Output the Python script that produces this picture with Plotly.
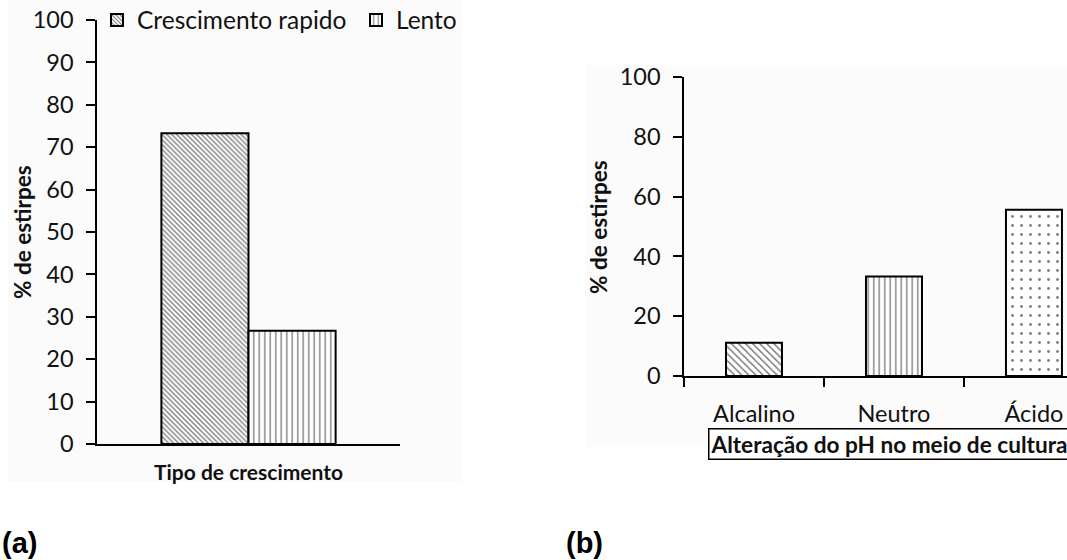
import plotly.graph_objects as go

W, H = 1067, 560

# ---- data: panel (a)
cat_a = ["Tipo de crescimento"]
rapido = [73.3]
lento = [26.7]
names_a = ["Crescimento rapido", "Lento"]
yticks_a = [0, 10, 20, 30, 40, 50, 60, 70, 80, 90, 100]

# ---- data: panel (b)
cat_b = ["Alcalino", "Neutro", "Ácido"]
ph_vals = [11.1, 33.3, 55.6]
yticks_b = [0, 20, 40, 60, 80, 100]


def px(x):
    return x / W


def py(y):
    return 1 - y / H


FONT = "Lato"
BOLD = "Lato"

fig = go.Figure()

fig.add_trace(go.Bar(
    x=cat_a, y=rapido, name=names_a[0], xaxis="x", yaxis="y",
    marker=dict(color="white", line=dict(color="black", width=2),
                pattern=dict(shape="\\", fgcolor="black", bgcolor="white", size=3.5, solidity=0.4)),
))
fig.add_trace(go.Bar(
    x=cat_a, y=lento, name=names_a[1], xaxis="x", yaxis="y",
    marker=dict(color="white", line=dict(color="black", width=2),
                pattern=dict(shape="|", fgcolor="black", bgcolor="white", size=5.5, solidity=0.25)),
))
fig.add_trace(go.Bar(
    x=cat_b, y=ph_vals, xaxis="x2", yaxis="y2", showlegend=False, width=0.4,
    marker=dict(color="white", line=dict(color="black", width=2),
                pattern=dict(shape=["\\", "|", "."], fgcolor="black", bgcolor="white",
                             size=[5, 5.5, 9], solidity=[0.3, 0.25, 0.08])),
))

axis_common = dict(showline=True, linecolor="black", linewidth=1.5, showgrid=False,
                   zeroline=False, tickcolor="black", tickwidth=1.5, ticklen=9,
                   ticklabeloverflow="allow")

fig.update_layout(
    width=W, height=H,
    margin=dict(l=0, r=0, t=0, b=0, autoexpand=False),
    paper_bgcolor="white", plot_bgcolor="rgba(0,0,0,0)",
    barmode="group", bargap=0.425, bargroupgap=0,
    font=dict(family=FONT, size=23.5, color="#111111"),
    xaxis=dict(domain=[px(97), px(400)], anchor="y", type="category", range=[-0.5, 0.5],
               showline=True, linecolor="black", linewidth=1.5, ticks="", showgrid=False,
               tickfont=dict(family=BOLD, size=21, weight="bold"), ticklabelstandoff=9,
               automargin=False),
    yaxis=dict(domain=[py(444), py(20)], anchor="x", range=[0, 100], tickvals=yticks_a,
               ticks="outside", ticklabelstandoff=8, automargin=False, **axis_common),
    xaxis2=dict(domain=[px(684), 1.0], anchor="y2", type="category", range=[-0.5, 2.236],
                ticks="outside", tickson="boundaries", ticklabelstandoff=16, automargin=False,
                **axis_common),
    yaxis2=dict(domain=[py(376), py(77)], anchor="x2", range=[0, 100], tickvals=yticks_b,
                ticks="outside", ticklabelstandoff=8, automargin=False, **axis_common),
    legend=dict(orientation="h", x=px(97), xanchor="left", y=py(20), yanchor="middle",
                font=dict(family=FONT, size=24.5), bgcolor="rgba(0,0,0,0)",
                itemwidth=30, tracegroupgap=0, entrywidth=214, entrywidthmode="pixels"),
    shapes=[
        dict(type="rect", xref="paper", yref="paper", x0=px(8), x1=px(462), y0=py(482), y1=py(0),
             fillcolor="#fbfbfb", line=dict(width=0), layer="below"),
        dict(type="rect", xref="paper", yref="paper", x0=px(585), x1=1.0, y0=py(447), y1=py(65),
             fillcolor="#fbfbfb", line=dict(width=0), layer="below"),
    ],
    annotations=[
        dict(text="% de estirpes", x=px(22), y=py(232), xref="paper", yref="paper",
             xanchor="center", yanchor="middle",
             textangle=-90, showarrow=False, font=dict(family=BOLD, size=22.5, weight="bold")),
        dict(text="% de estirpes", x=px(598), y=py(227), xref="paper", yref="paper",
             xanchor="center", yanchor="middle",
             textangle=-90, showarrow=False, font=dict(family=BOLD, size=22.5, weight="bold")),
        dict(text="Alteração do pH no meio de cultura", x=px(708), y=py(443.5), xref="paper",
             yref="paper", xanchor="left", yanchor="middle", showarrow=False,
             bordercolor="black", borderwidth=1.5, borderpad=1, bgcolor="white",
             font=dict(family=BOLD, size=22.6, weight="bold")),
        dict(text="(a)", x=px(0), y=py(543), xref="paper", yref="paper", xanchor="left",
             yanchor="middle", showarrow=False,
             font=dict(family="Liberation Sans", size=29, weight="bold", color="black")),
        dict(text="(b)", x=px(564), y=py(543), xref="paper", yref="paper", xanchor="left",
             yanchor="middle", showarrow=False,
             font=dict(family="Liberation Sans", size=29, weight="bold", color="black")),
    ],
)

# the page's default 8px body margin would push the 1067x560 figure off the window
fig.write_html("out.html", config={"displayModeBar": False},
               post_script="document.body.style.margin='0';")
